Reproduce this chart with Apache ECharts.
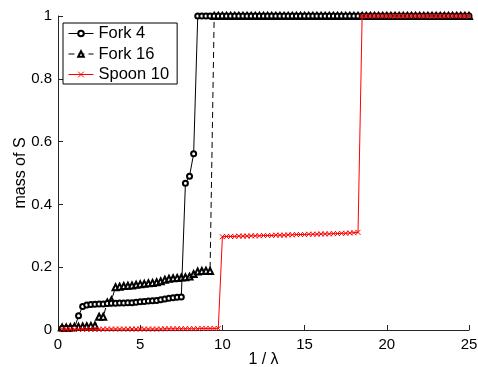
<!DOCTYPE html>
<html>
<head>
<meta charset="utf-8">
<script src="https://cdn.jsdelivr.net/npm/echarts@6/dist/echarts.min.js"></script>
<style>
  html, body { margin: 0; padding: 0; background: #fff; }
  #chart { width: 478px; height: 367px; }
</style>
</head>
<body>
<div id="chart"></div>
<script>
'use strict';

// 1 / lambda samples
const xValues = [
  0.25, 0.5, 0.75, 1, 1.25, 1.5, 1.75, 2, 2.25, 2.5,
  2.75, 3, 3.25, 3.5, 3.75, 4, 4.25, 4.5, 4.75, 5,
  5.25, 5.5, 5.75, 6, 6.25, 6.5, 6.75, 7, 7.25, 7.5,
  7.75, 8, 8.25, 8.5, 8.75, 9, 9.25, 9.5, 9.75, 10,
  10.25, 10.5, 10.75, 11, 11.25, 11.5, 11.75, 12, 12.25, 12.5,
  12.75, 13, 13.25, 13.5, 13.75, 14, 14.25, 14.5, 14.75, 15,
  15.25, 15.5, 15.75, 16, 16.25, 16.5, 16.75, 17, 17.25, 17.5,
  17.75, 18, 18.25, 18.5, 18.75, 19, 19.25, 19.5, 19.75, 20,
  20.25, 20.5, 20.75, 21, 21.25, 21.5, 21.75, 22, 22.25, 22.5,
  22.75, 23, 23.25, 23.5, 23.75, 24, 24.25, 24.5, 24.75, 25,
];

const fork4 = [
  0.005, 0.005, 0.005, 0.006, 0.045, 0.075, 0.080, 0.081, 0.082, 0.083,
  0.083, 0.084, 0.085, 0.085, 0.086, 0.086, 0.087, 0.087, 0.088, 0.090,
  0.091, 0.092, 0.093, 0.094, 0.096, 0.099, 0.101, 0.103, 0.104, 0.105,
  0.467, 0.490, 0.561, 1, 1, 1, 1, 1, 1, 1,
  1, 1, 1, 1, 1, 1, 1, 1, 1, 1,
  1, 1, 1, 1, 1, 1, 1, 1, 1, 1,
  1, 1, 1, 1, 1, 1, 1, 1, 1, 1,
  1, 1, 1, 1, 1, 1, 1, 1, 1, 1,
  1, 1, 1, 1, 1, 1, 1, 1, 1, 1,
  1, 1, 1, 1, 1, 1, 1, 1, 1, 1,
];

const fork16 = [
  0.008, 0.008, 0.009, 0.010, 0.010, 0.011, 0.012, 0.013, 0.014, 0.042,
  0.042, 0.088, 0.095, 0.136, 0.138, 0.140, 0.141, 0.142, 0.144, 0.146,
  0.147, 0.149, 0.150, 0.152, 0.155, 0.160, 0.163, 0.165, 0.166, 0.167,
  0.168, 0.170, 0.178, 0.186, 0.188, 0.189, 0.188, 1, 1, 1,
  1, 1, 1, 1, 1, 1, 1, 1, 1, 1,
  1, 1, 1, 1, 1, 1, 1, 1, 1, 1,
  1, 1, 1, 1, 1, 1, 1, 1, 1, 1,
  1, 1, 1, 1, 1, 1, 1, 1, 1, 1,
  1, 1, 1, 1, 1, 1, 1, 1, 1, 1,
  1, 1, 1, 1, 1, 1, 1, 1, 1, 1,
];

const spoon10 = [
  0.002, 0.002, 0.002, 0.002, 0.002, 0.002, 0.002, 0.002, 0.002, 0.002,
  0.003, 0.003, 0.003, 0.003, 0.003, 0.003, 0.003, 0.003, 0.003, 0.003,
  0.003, 0.003, 0.003, 0.003, 0.003, 0.004, 0.004, 0.004, 0.004, 0.004,
  0.004, 0.004, 0.004, 0.004, 0.005, 0.005, 0.005, 0.005, 0.005, 0.297,
  0.298, 0.298, 0.298, 0.299, 0.299, 0.299, 0.300, 0.300, 0.300, 0.301,
  0.301, 0.301, 0.302, 0.302, 0.302, 0.303, 0.303, 0.304, 0.304, 0.304,
  0.305, 0.305, 0.305, 0.306, 0.306, 0.306, 0.307, 0.307, 0.308, 0.308,
  0.309, 0.310, 0.311, 1, 1, 1, 1, 1, 1, 1,
  1, 1, 1, 1, 1, 1, 1, 1, 1, 1,
  1, 1, 1, 1, 1, 1, 1, 1, 1, 1,
];

const xTicks = { min: 0, max: 25, interval: 5 };
const yTicks = { min: 0, max: 1, interval: 0.2 };

const FONT = 'Liberation Sans, Arial, Helvetica, sans-serif';
const AXIS_COLOR = '#262626';

function pairs(ys) {
  return xValues.map((x, i) => [x, ys[i]]);
}

const chart = echarts.init(document.getElementById('chart'), null, { renderer: 'canvas' });

const axisCommon = {
  type: 'value',
  nameLocation: 'middle',
  nameMoveOverlap: false,
  nameTextStyle: { color: '#000', fontSize: 16, fontFamily: FONT },
  axisLine: { show: true, lineStyle: { color: AXIS_COLOR, width: 1 } },
  axisTick: { show: true, inside: true, length: 5, lineStyle: { color: AXIS_COLOR } },
  axisLabel: { color: '#000', fontSize: 15, fontFamily: FONT },
  splitLine: { show: false },
};

chart.setOption({
  animation: false,
  backgroundColor: '#fff',
  grid: { left: 58, right: 9, top: 16, bottom: 37, outerBoundsMode: 'none', containLabel: false },
  xAxis: Object.assign({}, axisCommon, xTicks, {
    name: '1 / λ',
    nameGap: 22,
    axisLabel: Object.assign({}, axisCommon.axisLabel, { margin: 7 }),
  }),
  yAxis: Object.assign({}, axisCommon, yTicks, {
    name: 'mass of S',
    nameGap: 29,
    axisLabel: Object.assign({}, axisCommon.axisLabel, { margin: 6 }),
  }),
  legend: {
    orient: 'vertical',
    left: 63,
    top: 23,
    padding: [2, 8, 1, 5],
    itemWidth: 25,
    itemHeight: 7,
    itemGap: 3.5,
    backgroundColor: '#fff',
    borderColor: '#000',
    borderWidth: 1,
    borderRadius: 0,
    itemStyle: { borderWidth: 1 },
    lineStyle: { width: 1 },
    textStyle: { color: '#000', fontSize: 16.5, fontFamily: FONT, lineHeight: 16.5 },
    data: ['Fork 4', 'Fork 16', 'Spoon 10'],
  },
  series: [
    {
      name: 'Fork 4',
      type: 'line',
      data: pairs(fork4),
      symbol: 'emptyCircle',
      symbolSize: 5,
      color: '#000',
      lineStyle: { color: '#000', width: 1 },
      itemStyle: { color: '#000', borderWidth: 1 },
      z: 3,
    },
    {
      name: 'Fork 16',
      type: 'line',
      data: pairs(fork16),
      symbol: 'emptyTriangle',
      symbolSize: 6,
      color: '#000',
      lineStyle: { color: '#000', width: 1, type: [6, 4] },
      itemStyle: { color: '#000', borderWidth: 1 },
      z: 2,
    },
    {
      name: 'Spoon 10',
      type: 'line',
      data: pairs(spoon10),
      symbol: 'path://M0,0L10,10M10,0L0,10',
      symbolSize: 5,
      color: '#ff0000',
      lineStyle: { color: '#ff0000', width: 1 },
      itemStyle: { color: 'none', borderColor: '#ff0000', borderWidth: 1 },
      z: 4,
    },
  ],
});
</script>
</body>
</html>
